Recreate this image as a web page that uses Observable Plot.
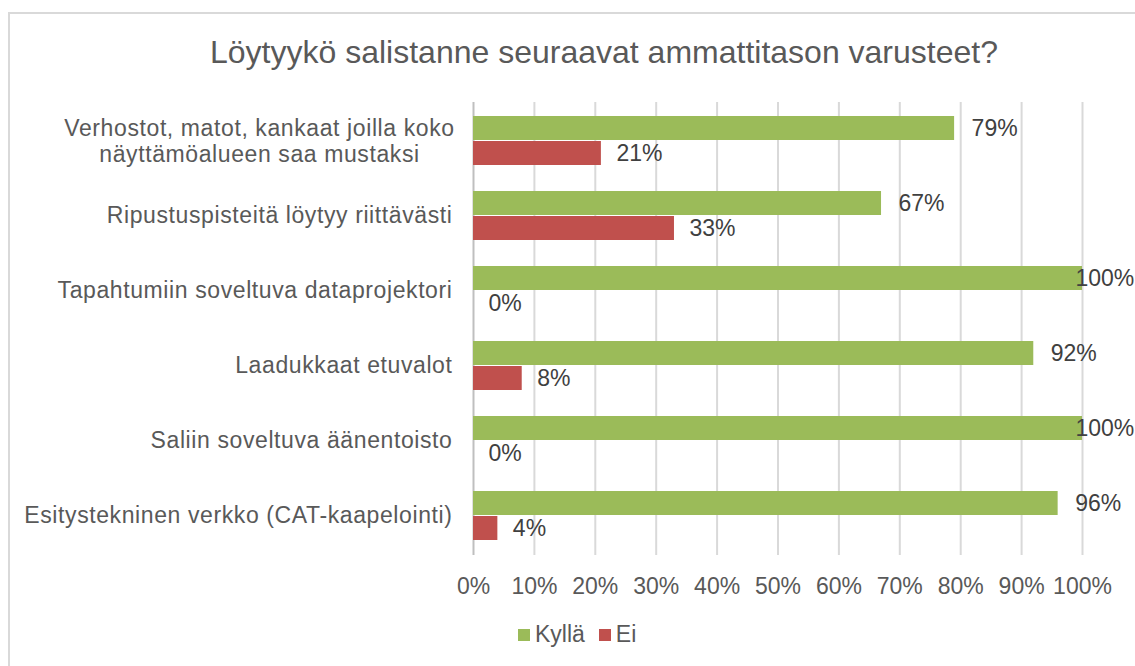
<!DOCTYPE html>
<html>
<head>
<meta charset="utf-8">
<script src="https://cdn.jsdelivr.net/npm/d3@7"></script>
<script src="https://cdn.jsdelivr.net/npm/@observablehq/plot@0.6"></script>
<style>
  html, body { margin: 0; padding: 0; background: #fff; }
  body { width: 1135px; height: 666px; position: relative; overflow: hidden; font-family: "Liberation Sans", Arial, sans-serif; }
  #frame { position: absolute; left: 8px; top: 12px; width: 1200px; height: 700px; border: 2px solid #D9D9D9; box-sizing: border-box; }
  #title { position: absolute; left: 0; width: 1208px; top: 36px; line-height: 32px; text-align: center; font-size: 32px; color: #595959; }
  #chart { position: absolute; left: 0; top: 90px; }
  #legend { position: absolute; top: 623px; left: 518px; font-size: 23px; line-height: 23px; color: #595959; display: flex; align-items: center; }
  #legend .sw { display: inline-block; width: 12px; height: 12px; margin-right: 5px; }
  #legend .item { display: flex; align-items: center; margin-right: 14px; }
</style>
</head>
<body>
<div id="frame"></div>
<div id="title">Löytyykö salistanne seuraavat ammattitason varusteet?</div>
<div id="chart"></div>
<div id="legend"></div>
<script>
const categories = [
  "Verhostot, matot, kankaat joilla koko\nnäyttämöalueen saa mustaksi",
  "Ripustuspisteitä löytyy riittävästi",
  "Tapahtumiin soveltuva dataprojektori",
  "Laadukkaat etuvalot",
  "Saliin soveltuva äänentoisto",
  "Esitystekninen verkko (CAT-kaapelointi)"
];
const kylla = [79, 67, 100, 92, 100, 96];
const ei = [21, 33, 0, 8, 0, 4];
const seriesNames = ["Kyllä", "Ei"];
const seriesColors = ["#9BBB59", "#C0504D"];
const xTicks = [0, 10, 20, 30, 40, 50, 60, 70, 80, 90, 100];

const kData = categories.map((c, i) => ({category: c, value: kylla[i]}));
const eData = categories.map((c, i) => ({category: c, value: ei[i]}));
const catData = categories.map(c => ({category: c}));

const labelColor = "#404040";
const axisColor = "#595959";

const plot = Plot.plot({
  width: 1135,
  height: 520,
  marginLeft: 473,
  marginRight: 53,
  marginTop: 12,
  marginBottom: 55,
  style: { fontFamily: "'Liberation Sans', Arial, sans-serif", fontSize: "23px", color: axisColor, background: "transparent" },
  x: { domain: [0, 100], ticks: xTicks, tickFormat: d => d + "%", label: null },
  y: { domain: categories, paddingInner: 0.34, paddingOuter: 0.17, axis: null },
  marks: [
    Plot.ruleX(xTicks.filter(t => t > 0), { stroke: "#D9D9D9", strokeWidth: 2 }),
    Plot.ruleX([0], { stroke: "#BFBFBF", strokeWidth: 2 }),
    Plot.barX(kData, { x: "value", y: "category", fill: seriesColors[0], insetBottom: 25 }),
    Plot.barX(eData, { x: "value", y: "category", fill: seriesColors[1], insetTop: 25 }),
    Plot.text(kData.filter(d => d.value < 100), { x: "value", y: "category", text: d => d.value + "%", dx: 17, dy: -12, textAnchor: "start", fill: labelColor, fontSize: 23 }),
    Plot.text(kData.filter(d => d.value >= 100), { x: "value", y: "category", text: d => d.value + "%", dx: -7, dy: -12, textAnchor: "start", fill: labelColor, fontSize: 23 }),
    Plot.text(eData, { x: "value", y: "category", text: d => d.value + "%", dx: 15, dy: 13, textAnchor: "start", fill: labelColor, fontSize: 23 }),
    Plot.text(catData.filter(d => !d.category.includes("\n")), { y: "category", frameAnchor: "left", dx: -21, textAnchor: "end", fill: axisColor, fontSize: 23, text: "category" }),
    Plot.text(catData.filter(d => d.category.includes("\n")), { y: "category", frameAnchor: "left", dx: -214, textAnchor: "middle", lineHeight: 1.13, fill: axisColor, fontSize: 23, text: "category" }),
    Plot.axisX({ ticks: xTicks, tickFormat: d => d + "%", tickSize: 0, tickPadding: 22, fill: axisColor, fontSize: 23, label: null })
  ]
});
document.getElementById("chart").appendChild(plot);

// widen category labels slightly to match reference letter spacing
const catLines = new Set(categories.flatMap(c => c.split("\n")));
d3.select(plot).selectAll("text, tspan").each(function () {
  if (this.childElementCount === 0 && catLines.has(this.textContent)) {
    const el = this.tagName === "tspan" ? this.parentNode : this;
    el.style.letterSpacing = "0.6px";
  }
});

const legend = document.getElementById("legend");
seriesNames.forEach((n, i) => {
  const it = document.createElement("span");
  it.className = "item";
  const sw = document.createElement("span");
  sw.className = "sw";
  sw.style.background = seriesColors[i];
  it.appendChild(sw);
  it.appendChild(document.createTextNode(n));
  legend.appendChild(it);
});
</script>
</body>
</html>
